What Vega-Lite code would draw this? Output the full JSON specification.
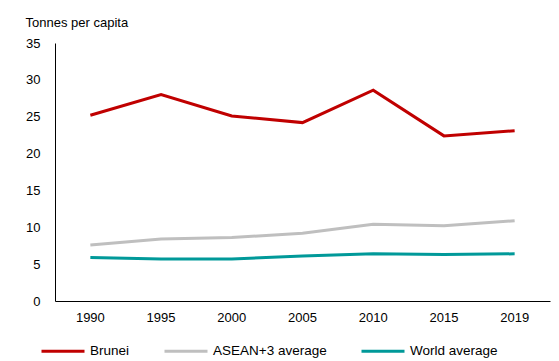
{
  "$schema": "https://vega.github.io/schema/vega-lite/v6.json",
  "width": 495,
  "height": 258,
  "autosize": {"type": "none"},
  "padding": {"left": 55, "top": 43, "right": 9, "bottom": 60},
  "background": "white",
  "config": {
    "font": "Liberation Sans",
    "view": {"stroke": null},
    "axis": {"labelFont": "Liberation Sans", "labelFontSize": 13, "labelColor": "#000000", "titleFont": "Liberation Sans"},
    "legend": {"labelFont": "Liberation Sans", "labelFontSize": 13.5, "labelColor": "#000000"}
  },
  "data": {
    "values": [
      {"year": "1990", "series": "Brunei", "value": 25.2},
      {"year": "1995", "series": "Brunei", "value": 28.0},
      {"year": "2000", "series": "Brunei", "value": 25.1},
      {"year": "2005", "series": "Brunei", "value": 24.2},
      {"year": "2010", "series": "Brunei", "value": 28.6},
      {"year": "2015", "series": "Brunei", "value": 22.4},
      {"year": "2019", "series": "Brunei", "value": 23.1},
      {"year": "1990", "series": "ASEAN+3 average", "value": 7.6},
      {"year": "1995", "series": "ASEAN+3 average", "value": 8.4},
      {"year": "2000", "series": "ASEAN+3 average", "value": 8.6},
      {"year": "2005", "series": "ASEAN+3 average", "value": 9.2},
      {"year": "2010", "series": "ASEAN+3 average", "value": 10.4},
      {"year": "2015", "series": "ASEAN+3 average", "value": 10.2},
      {"year": "2019", "series": "ASEAN+3 average", "value": 10.9},
      {"year": "1990", "series": "World average", "value": 5.9},
      {"year": "1995", "series": "World average", "value": 5.7},
      {"year": "2000", "series": "World average", "value": 5.7},
      {"year": "2005", "series": "World average", "value": 6.1},
      {"year": "2010", "series": "World average", "value": 6.4},
      {"year": "2015", "series": "World average", "value": 6.3},
      {"year": "2019", "series": "World average", "value": 6.4}
    ]
  },
  "mark": {"type": "line", "strokeWidth": 3, "strokeJoin": "miter"},
  "encoding": {
    "x": {
      "field": "year",
      "type": "ordinal",
      "scale": {"type": "band", "paddingInner": 0, "paddingOuter": 0},
      "axis": {
        "title": null,
        "labelAngle": 0,
        "ticks": false,
        "domainColor": "#000000",
        "domainWidth": 1,
        "labelPadding": 10,
        "grid": false
      }
    },
    "y": {
      "field": "value",
      "type": "quantitative",
      "scale": {"domain": [0, 35], "nice": false},
      "axis": {
        "values": [0, 5, 10, 15, 20, 25, 30, 35],
        "title": "Tonnes per capita",
        "titleAngle": 0,
        "titleAlign": "left",
        "titleBaseline": "alphabetic",
        "titleX": -30,
        "titleY": -17,
        "titleFontSize": 13,
        "titleFontWeight": "normal",
        "titleColor": "#000000",
        "ticks": false,
        "grid": false,
        "domainColor": "#000000",
        "domainWidth": 1,
        "labelPadding": 15
      }
    },
    "color": {
      "field": "series",
      "type": "nominal",
      "scale": {
        "domain": ["Brunei", "ASEAN+3 average", "World average"],
        "range": ["#C00000", "#BFBFBF", "#009999"]
      },
      "legend": {
        "title": null,
        "orient": "none",
        "direction": "horizontal",
        "legendX": -15,
        "legendY": 285,
        "symbolType": "stroke",
        "symbolSize": 1849,
        "symbolStrokeWidth": 3,
        "labelOffset": 4,
        "columnPadding": 28
      }
    }
  }
}
